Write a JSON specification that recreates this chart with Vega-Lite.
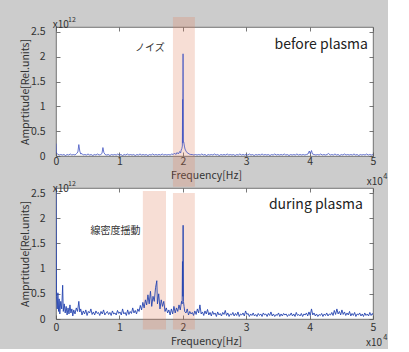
{
"$schema": "https://vega.github.io/schema/vega-lite/v6.json",
"background": "#cccccc",
"padding": {"left": 19, "top": 15, "right": 0, "bottom": 0},
"bounds": "flush",
"spacing": 32,
"config": {
 "font": "Noto Sans CJK JP",
 "view": {"fill": "white", "stroke": "#555555", "strokeWidth": 0.8},
 "axis": {"domain": false, "grid": false, "tickColor": "#555555", "tickSize": -4, "tickWidth": 0.8, "labelFontSize": 10.5, "labelColor": "#333333", "titleFontSize": 10.5, "titleFontWeight": "normal", "titleColor": "#333333", "labelFlush": false, "zindex": 1}
},
"datasets": {
 "before": [
  {"f":0,"a":0.25},{"f":0.006,"a":0.06},{"f":0.025,"a":0.04},{"f":0.05,"a":0.02},{"f":0.075,"a":0.03},{"f":0.1,"a":0.02},{"f":0.125,"a":0.03},{"f":0.15,"a":0.01},{"f":0.175,"a":0.03},{"f":0.2,"a":0.02},{"f":0.225,"a":0.04},{"f":0.25,"a":0.02},{"f":0.275,"a":0.03},{"f":0.3,"a":0.02},{"f":0.325,"a":0.05},{"f":0.345,"a":0.08},{"f":0.36,"a":0.23},{"f":0.375,"a":0.1},{"f":0.39,"a":0.04},{"f":0.41,"a":0.05},{"f":0.43,"a":0.02},{"f":0.455,"a":0.03},{"f":0.48,"a":0.02},{"f":0.505,"a":0.04},{"f":0.53,"a":0.02},{"f":0.555,"a":0.03},{"f":0.58,"a":0.01},{"f":0.605,"a":0.03},{"f":0.63,"a":0.02},{"f":0.655,"a":0.04},{"f":0.68,"a":0.02},{"f":0.705,"a":0.03},{"f":0.725,"a":0.05},{"f":0.74,"a":0.17},{"f":0.755,"a":0.07},{"f":0.775,"a":0.03},{"f":0.8,"a":0.02},{"f":0.825,"a":0.03},{"f":0.85,"a":0.01},{"f":0.875,"a":0.03},{"f":0.9,"a":0.02},{"f":0.925,"a":0.03},{"f":0.95,"a":0.02},{"f":0.975,"a":0.04},{"f":1.0,"a":0.02},{"f":1.025,"a":0.03},{"f":1.05,"a":0.01},{"f":1.075,"a":0.03},{"f":1.1,"a":0.02},{"f":1.125,"a":0.04},{"f":1.15,"a":0.02},{"f":1.175,"a":0.03},{"f":1.2,"a":0.02},{"f":1.225,"a":0.03},{"f":1.25,"a":0.01},{"f":1.275,"a":0.03},{"f":1.3,"a":0.02},{"f":1.325,"a":0.04},{"f":1.35,"a":0.02},{"f":1.375,"a":0.03},{"f":1.4,"a":0.02},{"f":1.425,"a":0.03},{"f":1.45,"a":0.01},{"f":1.475,"a":0.03},{"f":1.5,"a":0.02},{"f":1.525,"a":0.04},{"f":1.55,"a":0.02},{"f":1.575,"a":0.03},{"f":1.6,"a":0.02},{"f":1.625,"a":0.03},{"f":1.65,"a":0.02},{"f":1.675,"a":0.04},{"f":1.7,"a":0.02},{"f":1.725,"a":0.03},{"f":1.75,"a":0.02},{"f":1.775,"a":0.03},{"f":1.8,"a":0.02},{"f":1.825,"a":0.04},{"f":1.85,"a":0.03},{"f":1.87,"a":0.06},{"f":1.89,"a":0.03},{"f":1.91,"a":0.07},{"f":1.93,"a":0.04},{"f":1.95,"a":0.09},{"f":1.965,"a":0.06},{"f":1.975,"a":0.12},{"f":1.985,"a":0.15},{"f":1.993,"a":0.2},{"f":1.997,"a":1.14},{"f":2.0,"a":0.26},{"f":2.004,"a":2.06},{"f":2.008,"a":0.3},{"f":2.015,"a":0.28},{"f":2.025,"a":0.2},{"f":2.035,"a":0.14},{"f":2.05,"a":0.1},{"f":2.065,"a":0.07},{"f":2.08,"a":0.06},{"f":2.1,"a":0.04},{"f":2.125,"a":0.03},{"f":2.15,"a":0.03},{"f":2.175,"a":0.02},{"f":2.2,"a":0.03},
  {"f":2.225,"a":0.02},{"f":2.25,"a":0.03},{"f":2.275,"a":0.02},{"f":2.3,"a":0.04},{"f":2.325,"a":0.02},{"f":2.35,"a":0.03},{"f":2.375,"a":0.01},{"f":2.4,"a":0.03},{"f":2.425,"a":0.02},{"f":2.45,"a":0.03},{"f":2.475,"a":0.02},{"f":2.5,"a":0.04},{"f":2.525,"a":0.02},{"f":2.55,"a":0.03},{"f":2.575,"a":0.01},{"f":2.6,"a":0.03},{"f":2.625,"a":0.02},{"f":2.65,"a":0.03},{"f":2.675,"a":0.02},{"f":2.7,"a":0.04},{"f":2.725,"a":0.02},{"f":2.75,"a":0.03},{"f":2.775,"a":0.02},{"f":2.8,"a":0.03},{"f":2.825,"a":0.01},{"f":2.85,"a":0.03},{"f":2.875,"a":0.02},{"f":2.9,"a":0.04},{"f":2.925,"a":0.02},{"f":2.95,"a":0.03},{"f":2.975,"a":0.02},{"f":3.0,"a":0.03},{"f":3.025,"a":0.02},{"f":3.05,"a":0.04},{"f":3.075,"a":0.02},{"f":3.1,"a":0.03},{"f":3.125,"a":0.01},{"f":3.15,"a":0.03},{"f":3.175,"a":0.02},{"f":3.2,"a":0.03},{"f":3.225,"a":0.02},{"f":3.25,"a":0.04},{"f":3.275,"a":0.02},{"f":3.3,"a":0.03},{"f":3.325,"a":0.02},{"f":3.35,"a":0.03},{"f":3.375,"a":0.01},{"f":3.4,"a":0.03},{"f":3.425,"a":0.02},{"f":3.45,"a":0.04},{"f":3.475,"a":0.02},{"f":3.5,"a":0.03},{"f":3.525,"a":0.02},{"f":3.55,"a":0.03},{"f":3.575,"a":0.02},{"f":3.6,"a":0.04},{"f":3.625,"a":0.02},{"f":3.65,"a":0.03},{"f":3.675,"a":0.01},{"f":3.7,"a":0.03},{"f":3.725,"a":0.02},{"f":3.75,"a":0.03},{"f":3.775,"a":0.02},{"f":3.8,"a":0.04},{"f":3.825,"a":0.02},{"f":3.85,"a":0.03},{"f":3.875,"a":0.02},{"f":3.9,"a":0.03},{"f":3.925,"a":0.02},{"f":3.95,"a":0.03},{"f":3.975,"a":0.04},{"f":3.995,"a":0.1},{"f":4.01,"a":0.05},{"f":4.03,"a":0.11},{"f":4.045,"a":0.04},{"f":4.07,"a":0.03},{"f":4.1,"a":0.02},{"f":4.125,"a":0.03},{"f":4.15,"a":0.02},{"f":4.175,"a":0.04},{"f":4.2,"a":0.02},{"f":4.225,"a":0.03},{"f":4.25,"a":0.02},{"f":4.275,"a":0.03},{"f":4.3,"a":0.05},{"f":4.325,"a":0.02},{"f":4.35,"a":0.03},{"f":4.375,"a":0.02},{"f":4.4,"a":0.04},{"f":4.425,"a":0.02},{"f":4.45,"a":0.03},{"f":4.475,"a":0.01},{"f":4.5,"a":0.03},{"f":4.525,"a":0.02},{"f":4.55,"a":0.04},{"f":4.575,"a":0.02},{"f":4.6,"a":0.03},{"f":4.625,"a":0.02},{"f":4.65,"a":0.03},{"f":4.675,"a":0.02},{"f":4.7,"a":0.04},{"f":4.725,"a":0.02},{"f":4.75,"a":0.03},{"f":4.775,"a":0.01},{"f":4.8,"a":0.03},{"f":4.825,"a":0.02},{"f":4.85,"a":0.03},{"f":4.875,"a":0.02},{"f":4.9,"a":0.04},{"f":4.925,"a":0.02},{"f":4.95,"a":0.03},{"f":4.975,"a":0.02},{"f":5.0,"a":0.03}
 ],
 "during": [
  {"f":0,"a":3.0},{"f":0.008,"a":0.45},{"f":0.02,"a":0.2},{"f":0.03,"a":0.52},{"f":0.04,"a":0.15},{"f":0.05,"a":0.4},{"f":0.06,"a":0.1},{"f":0.075,"a":0.35},{"f":0.09,"a":0.2},{"f":0.105,"a":0.67},{"f":0.115,"a":0.15},{"f":0.13,"a":0.3},{"f":0.145,"a":0.12},{"f":0.16,"a":0.25},{"f":0.175,"a":0.08},{"f":0.19,"a":0.22},{"f":0.205,"a":0.1},{"f":0.22,"a":0.28},{"f":0.235,"a":0.12},{"f":0.25,"a":0.2},{"f":0.265,"a":0.06},{"f":0.28,"a":0.18},{"f":0.3,"a":0.1},{"f":0.32,"a":0.22},{"f":0.34,"a":0.15},{"f":0.36,"a":0.35},{"f":0.375,"a":0.14},{"f":0.39,"a":0.2},{"f":0.41,"a":0.08},{"f":0.43,"a":0.16},{"f":0.45,"a":0.1},{"f":0.47,"a":0.18},{"f":0.49,"a":0.07},{"f":0.51,"a":0.15},{"f":0.53,"a":0.12},{"f":0.55,"a":0.2},{"f":0.57,"a":0.09},{"f":0.59,"a":0.14},{"f":0.61,"a":0.08},{"f":0.63,"a":0.16},{"f":0.65,"a":0.11},{"f":0.67,"a":0.13},{"f":0.69,"a":0.07},{"f":0.71,"a":0.15},{"f":0.73,"a":0.1},{"f":0.75,"a":0.18},{"f":0.77,"a":0.08},{"f":0.79,"a":0.12},{"f":0.81,"a":0.15},{"f":0.83,"a":0.09},{"f":0.85,"a":0.13},{"f":0.87,"a":0.07},{"f":0.89,"a":0.16},{"f":0.91,"a":0.1},{"f":0.93,"a":0.12},{"f":0.95,"a":0.08},{"f":0.97,"a":0.17},{"f":0.99,"a":0.11},{"f":1.01,"a":0.14},{"f":1.03,"a":0.08},{"f":1.05,"a":0.2},{"f":1.07,"a":0.1},{"f":1.09,"a":0.13},{"f":1.11,"a":0.07},{"f":1.13,"a":0.18},{"f":1.15,"a":0.09},{"f":1.17,"a":0.15},{"f":1.19,"a":0.11},{"f":1.21,"a":0.22},{"f":1.23,"a":0.12},{"f":1.25,"a":0.17},{"f":1.27,"a":0.1},{"f":1.29,"a":0.2},{"f":1.31,"a":0.15},{"f":1.33,"a":0.27},{"f":1.35,"a":0.18},{"f":1.37,"a":0.33},{"f":1.39,"a":0.22},{"f":1.41,"a":0.38},{"f":1.43,"a":0.28},{"f":1.45,"a":0.48},{"f":1.47,"a":0.3},{"f":1.49,"a":0.55},{"f":1.51,"a":0.25},{"f":1.53,"a":0.45},{"f":1.55,"a":0.35},{"f":1.57,"a":0.62},{"f":1.59,"a":0.76},{"f":1.6,"a":0.3},{"f":1.62,"a":0.5},{"f":1.64,"a":0.2},{"f":1.66,"a":0.38},{"f":1.68,"a":0.25},{"f":1.7,"a":0.35},{"f":1.72,"a":0.15},{"f":1.74,"a":0.22},{"f":1.76,"a":0.12},{"f":1.78,"a":0.18},{"f":1.8,"a":0.08},{"f":1.82,"a":0.2},{"f":1.84,"a":0.1},{"f":1.86,"a":0.25},{"f":1.88,"a":0.12},{"f":1.9,"a":0.22},{"f":1.92,"a":0.15},{"f":1.94,"a":0.28},{"f":1.96,"a":0.18},{"f":1.98,"a":0.35},{"f":1.99,"a":0.3},{"f":1.995,"a":1.14},{"f":2.0,"a":0.45},{"f":2.005,"a":1.86},{"f":2.01,"a":0.35},{"f":2.02,"a":0.25},{"f":2.03,"a":0.15},{"f":2.05,"a":0.12},{"f":2.07,"a":0.2},{"f":2.09,"a":0.08},{"f":2.11,"a":0.15},{"f":2.13,"a":0.1},{"f":2.15,"a":0.13},{"f":2.17,"a":0.07},{"f":2.19,"a":0.16},{"f":2.21,"a":0.09},{"f":2.23,"a":0.2},{"f":2.25,"a":0.12},{"f":2.27,"a":0.28},{"f":2.29,"a":0.1},
  {"f":2.31,"a":0.14},{"f":2.33,"a":0.07},{"f":2.35,"a":0.16},{"f":2.37,"a":0.1},{"f":2.39,"a":0.19},{"f":2.41,"a":0.08},{"f":2.43,"a":0.13},{"f":2.45,"a":0.06},{"f":2.47,"a":0.15},{"f":2.49,"a":0.09},{"f":2.51,"a":0.12},{"f":2.53,"a":0.05},{"f":2.55,"a":0.14},{"f":2.57,"a":0.08},{"f":2.59,"a":0.11},{"f":2.61,"a":0.06},{"f":2.63,"a":0.13},{"f":2.65,"a":0.09},{"f":2.67,"a":0.17},{"f":2.69,"a":0.07},{"f":2.71,"a":0.12},{"f":2.73,"a":0.05},{"f":2.75,"a":0.1},{"f":2.77,"a":0.08},{"f":2.79,"a":0.13},{"f":2.81,"a":0.06},{"f":2.83,"a":0.11},{"f":2.85,"a":0.07},{"f":2.87,"a":0.14},{"f":2.89,"a":0.05},{"f":2.91,"a":0.1},{"f":2.93,"a":0.08},{"f":2.95,"a":0.12},{"f":2.97,"a":0.06},{"f":2.99,"a":0.16},{"f":3.01,"a":0.09},{"f":3.03,"a":0.11},{"f":3.05,"a":0.05},{"f":3.07,"a":0.1},{"f":3.09,"a":0.07},{"f":3.11,"a":0.12},{"f":3.13,"a":0.06},{"f":3.15,"a":0.09},{"f":3.17,"a":0.05},{"f":3.19,"a":0.11},{"f":3.21,"a":0.07},{"f":3.23,"a":0.1},{"f":3.25,"a":0.05},{"f":3.27,"a":0.12},{"f":3.29,"a":0.08},{"f":3.31,"a":0.1},{"f":3.33,"a":0.05},{"f":3.35,"a":0.11},{"f":3.37,"a":0.07},{"f":3.39,"a":0.14},{"f":3.41,"a":0.06},{"f":3.43,"a":0.1},{"f":3.45,"a":0.05},{"f":3.47,"a":0.09},{"f":3.49,"a":0.07},{"f":3.51,"a":0.12},{"f":3.53,"a":0.05},{"f":3.55,"a":0.1},{"f":3.57,"a":0.06},{"f":3.59,"a":0.11},{"f":3.61,"a":0.08},{"f":3.63,"a":0.1},{"f":3.65,"a":0.05},{"f":3.67,"a":0.09},{"f":3.69,"a":0.07},{"f":3.71,"a":0.12},{"f":3.73,"a":0.06},{"f":3.75,"a":0.1},{"f":3.77,"a":0.05},{"f":3.79,"a":0.13},{"f":3.81,"a":0.07},{"f":3.83,"a":0.09},{"f":3.85,"a":0.06},{"f":3.87,"a":0.11},{"f":3.89,"a":0.05},{"f":3.91,"a":0.1},{"f":3.93,"a":0.08},{"f":3.95,"a":0.12},{"f":3.97,"a":0.06},{"f":3.99,"a":0.14},{"f":4.01,"a":0.07},{"f":4.03,"a":0.2},{"f":4.05,"a":0.08},{"f":4.07,"a":0.12},{"f":4.09,"a":0.06},{"f":4.11,"a":0.1},{"f":4.13,"a":0.05},{"f":4.15,"a":0.09},{"f":4.17,"a":0.07},{"f":4.19,"a":0.11},{"f":4.21,"a":0.05},{"f":4.23,"a":0.1},{"f":4.25,"a":0.07},{"f":4.27,"a":0.12},{"f":4.29,"a":0.06},{"f":4.31,"a":0.1},{"f":4.33,"a":0.08},{"f":4.35,"a":0.13},{"f":4.37,"a":0.07},{"f":4.39,"a":0.17},{"f":4.41,"a":0.09},{"f":4.43,"a":0.2},{"f":4.45,"a":0.1},{"f":4.47,"a":0.15},{"f":4.49,"a":0.08},{"f":4.51,"a":0.18},{"f":4.53,"a":0.09},{"f":4.55,"a":0.14},{"f":4.57,"a":0.07},{"f":4.59,"a":0.12},{"f":4.61,"a":0.08},{"f":4.63,"a":0.15},{"f":4.65,"a":0.06},{"f":4.67,"a":0.11},{"f":4.69,"a":0.07},{"f":4.71,"a":0.13},{"f":4.73,"a":0.05},{"f":4.75,"a":0.1},{"f":4.77,"a":0.08},{"f":4.79,"a":0.12},{"f":4.81,"a":0.06},{"f":4.83,"a":0.1},{"f":4.85,"a":0.05},{"f":4.87,"a":0.12},{"f":4.89,"a":0.07},{"f":4.91,"a":0.1},{"f":4.93,"a":0.06},{"f":4.95,"a":0.13},{"f":4.97,"a":0.07},{"f":4.99,"a":0.11},{"f":5.0,"a":0.08}
 ]
},
"vconcat": [
 {
  "width": 317, "height": 129,
  "resolve": {"axis": {"x": "independent", "y": "independent"}},
  "layer": [
   {"data": {"values": [{"lo": 1.845, "hi": 2.19}]},
    "mark": {"type": "rect", "clip": false, "color": "#df7b57", "opacity": 0.25},
    "encoding": {
     "x": {"field": "lo", "type": "quantitative", "scale": {"domain": [0, 5]}, "axis": null},
     "x2": {"field": "hi"},
     "y": {"datum": 2.8, "type": "quantitative", "scale": {"domain": [0, 2.5]}, "axis": null},
     "y2": {"datum": -0.62}}},
   {"data": {"name": "before"},
    "mark": {"type": "line", "color": "#4254c2", "strokeWidth": 0.8, "clip": true},
    "encoding": {
     "x": {"field": "f", "type": "quantitative", "axis": {"orient": "bottom", "values": [0,1,2,3,4,5], "labelPadding": 4, "title": "Frequency[Hz]", "titleX": 150, "titleY": 19, "titleBaseline": "middle"}},
     "y": {"field": "a", "type": "quantitative", "axis": {"orient": "left", "values": [0,0.5,1,1.5,2,2.5], "format": "~g", "labelPadding": 15, "title": "Amprtitude[Rel.units]", "titleX": -31, "titleY": 64.5, "titleBaseline": "middle"}}}},
   {"data": {"values": [{}]},
    "mark": {"type": "point", "opacity": 0},
    "encoding": {
     "x": {"datum": 0, "type": "quantitative", "axis": {"orient": "top", "values": [0,1,2,3,4,5], "labels": false, "title": null}},
     "y": {"datum": 0, "type": "quantitative", "axis": {"orient": "right", "values": [0,0.5,1,1.5,2,2.5], "labels": false, "title": null}}}},
   {"data": {"values": [{}]},
    "mark": {"type": "text", "align": "right", "baseline": "middle", "fontSize": 14, "color": "#222222"},
    "encoding": {"x": {"datum": 4.92, "type": "quantitative", "axis": null}, "y": {"datum": 2.24, "type": "quantitative", "axis": null}, "text": {"value": "before plasma"}}},
   {"data": {"values": [{}]},
    "mark": {"type": "text", "align": "center", "baseline": "middle", "fontSize": 10, "color": "#333333"},
    "encoding": {"x": {"datum": 1.48, "type": "quantitative", "axis": null}, "y": {"datum": 2.18, "type": "quantitative", "axis": null}, "text": {"value": "ノイズ"}}},
   {"data": {"values": [{}]},
    "mark": {"type": "text", "align": "left", "baseline": "middle", "fontSize": 10, "color": "#333333"},
    "encoding": {"x": {"datum": -0.05, "type": "quantitative", "axis": null}, "y": {"datum": 2.65, "type": "quantitative", "axis": null}, "text": {"value": "x10"}}},
   {"data": {"values": [{}]},
    "mark": {"type": "text", "align": "left", "baseline": "middle", "fontSize": 7, "color": "#333333"},
    "encoding": {"x": {"datum": 0.19, "type": "quantitative", "axis": null}, "y": {"datum": 2.74, "type": "quantitative", "axis": null}, "text": {"value": "12"}}},
   {"data": {"values": [{}]},
    "mark": {"type": "text", "align": "left", "baseline": "middle", "fontSize": 10, "color": "#333333"},
    "encoding": {"x": {"datum": 4.9, "type": "quantitative", "axis": null}, "y": {"datum": -0.52, "type": "quantitative", "axis": null}, "text": {"value": "x10"}}},
   {"data": {"values": [{}]},
    "mark": {"type": "text", "align": "left", "baseline": "middle", "fontSize": 7.5, "color": "#333333"},
    "encoding": {"x": {"datum": 5.16, "type": "quantitative", "axis": null}, "y": {"datum": -0.42, "type": "quantitative", "axis": null}, "text": {"value": "4"}}}
  ]
 },
 {
  "width": 317, "height": 131,
  "resolve": {"axis": {"x": "independent", "y": "independent"}},
  "layer": [
   {"data": {"values": [{"lo": 1.37, "hi": 1.735}]},
    "mark": {"type": "rect", "clip": false, "color": "#df7b57", "opacity": 0.25},
    "encoding": {
     "x": {"field": "lo", "type": "quantitative", "scale": {"domain": [0, 5]}, "axis": null},
     "x2": {"field": "hi"},
     "y": {"datum": 2.54, "type": "quantitative", "scale": {"domain": [0, 2.5]}, "axis": null},
     "y2": {"datum": -0.21}}},
   {"data": {"values": [{"lo": 1.845, "hi": 2.19}]},
    "mark": {"type": "rect", "clip": false, "color": "#df7b57", "opacity": 0.25},
    "encoding": {
     "x": {"field": "lo", "type": "quantitative", "axis": null},
     "x2": {"field": "hi"},
     "y": {"datum": 2.5, "type": "quantitative", "axis": null},
     "y2": {"datum": -0.21}}},
   {"data": {"name": "during"},
    "mark": {"type": "line", "color": "#2544b0", "strokeWidth": 0.9, "clip": true},
    "encoding": {
     "x": {"field": "f", "type": "quantitative", "axis": {"orient": "bottom", "values": [0,1,2,3,4,5], "labelPadding": 7, "title": "Frequency[Hz]", "titleX": 150, "titleY": 22, "titleBaseline": "middle"}},
     "y": {"field": "a", "type": "quantitative", "axis": {"orient": "left", "values": [0,0.5,1,1.5,2,2.5], "format": "~g", "labelPadding": 15, "title": "Amprtitude[Rel.units]", "titleX": -31, "titleY": 65.5, "titleBaseline": "middle"}}}},
   {"data": {"values": [{}]},
    "mark": {"type": "point", "opacity": 0},
    "encoding": {
     "x": {"datum": 0, "type": "quantitative", "axis": {"orient": "top", "values": [0,1,2,3,4,5], "labels": false, "title": null}},
     "y": {"datum": 0, "type": "quantitative", "axis": {"orient": "right", "values": [0,0.5,1,1.5,2,2.5], "labels": false, "title": null}}}},
   {"data": {"values": [{}]},
    "mark": {"type": "text", "align": "right", "baseline": "middle", "fontSize": 14, "color": "#222222"},
    "encoding": {"x": {"datum": 4.84, "type": "quantitative", "axis": null}, "y": {"datum": 2.26, "type": "quantitative", "axis": null}, "text": {"value": "during plasma"}}},
   {"data": {"values": [{}]},
    "mark": {"type": "text", "align": "center", "baseline": "middle", "fontSize": 10, "color": "#333333"},
    "encoding": {"x": {"datum": 0.94, "type": "quantitative", "axis": null}, "y": {"datum": 1.75, "type": "quantitative", "axis": null}, "text": {"value": "線密度揺動"}}},
   {"data": {"values": [{}]},
    "mark": {"type": "text", "align": "left", "baseline": "middle", "fontSize": 10, "color": "#333333"},
    "encoding": {"x": {"datum": -0.05, "type": "quantitative", "axis": null}, "y": {"datum": 2.59, "type": "quantitative", "axis": null}, "text": {"value": "x10"}}},
   {"data": {"values": [{}]},
    "mark": {"type": "text", "align": "left", "baseline": "middle", "fontSize": 7, "color": "#333333"},
    "encoding": {"x": {"datum": 0.19, "type": "quantitative", "axis": null}, "y": {"datum": 2.67, "type": "quantitative", "axis": null}, "text": {"value": "12"}}},
   {"data": {"values": [{}]},
    "mark": {"type": "text", "align": "left", "baseline": "middle", "fontSize": 10, "color": "#333333"},
    "encoding": {"x": {"datum": 4.89, "type": "quantitative", "axis": null}, "y": {"datum": -0.48, "type": "quantitative", "axis": null}, "text": {"value": "x10"}}},
   {"data": {"values": [{}]},
    "mark": {"type": "text", "align": "left", "baseline": "middle", "fontSize": 7.5, "color": "#333333"},
    "encoding": {"x": {"datum": 5.16, "type": "quantitative", "axis": null}, "y": {"datum": -0.38, "type": "quantitative", "axis": null}, "text": {"value": "4"}}}
  ]
 }
]
}
